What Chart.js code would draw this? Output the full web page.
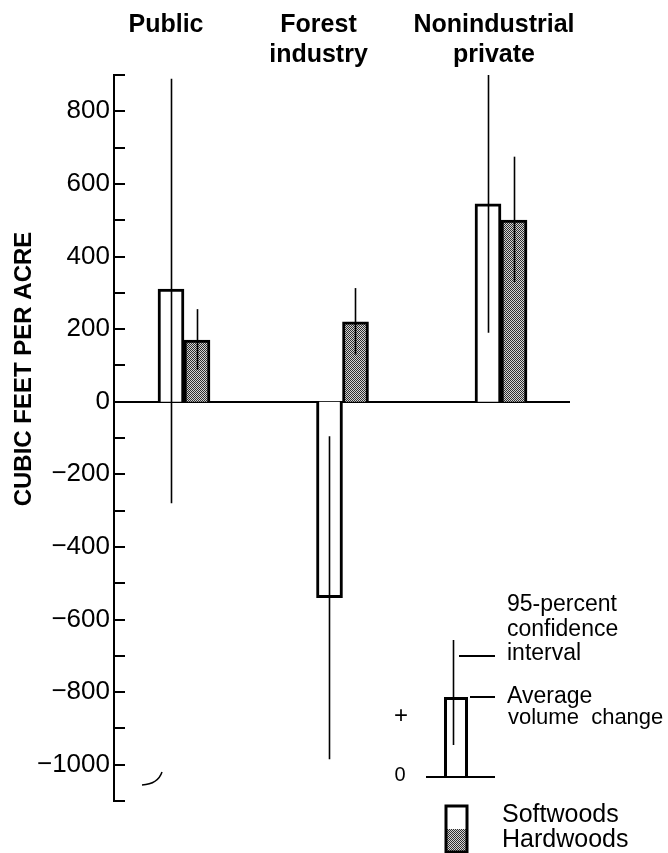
<!DOCTYPE html>
<html>
<head>
<meta charset="utf-8">
<script src="https://cdn.jsdelivr.net/npm/chart.js@4.4.0/dist/chart.umd.min.js"></script>
<style>
  html, body { margin: 0; padding: 0; background: #fff; }
  canvas { display: block; }
</style>
</head>
<body>
<canvas id="chart" width="668" height="853"></canvas>
<script>
// Average volume change per acre by ownership, with 95-percent confidence intervals
const categories = ['Public', 'Forest industry', 'Nonindustrial private'];
const categoryLines = [['Public'], ['Forest', 'industry'], ['Nonindustrial', 'private']];

const softwoods = [310, -540, 545];
const hardwoods = [170, 220, 500];

const softwoodLow = [-280, -985, 190];
const softwoodHigh = [890, -95, 900];
const hardwoodLow = [88, 130, 330];
const hardwoodHigh = [255, 313, 675];

const yTickLabels = [-1000, -800, -600, -400, -200, 0, 200, 400, 600, 800];

const FONT = "'Liberation Sans', Arial, Helvetica, sans-serif";

// Fine dotted fill used for the hardwood bars
function stipple() {
  const t = document.createElement('canvas');
  t.width = 4; t.height = 4;
  const g = t.getContext('2d');
  g.fillStyle = '#d4d4d4';
  g.fillRect(0, 0, 4, 4);
  g.fillStyle = '#2e2e2e';
  for (let yy = 0; yy < 4; yy++) {
    for (let xx = 0; xx < 4; xx++) {
      if ((xx + yy) % 2 === 0) g.fillRect(xx, yy, 1, 1);
    }
  }
  return g.createPattern(t, 'repeat');
}
const hatch = stipple();

const fmt = v => (v < 0 ? '\u2212' + Math.abs(v) : String(v));

const decor = {
  id: 'decor',
  beforeDatasetsDraw(chart) {
    const { ctx, chartArea: a, scales: { y } } = chart;
    ctx.save();
    ctx.strokeStyle = '#000';
    ctx.lineWidth = 2;
    // tick marks pointing into the plot
    for (let v = y.min; v <= y.max; v += 100) {
      const py = Math.round(y.getPixelForValue(v));
      ctx.beginPath();
      ctx.moveTo(a.left, py);
      ctx.lineTo(a.left + 11, py);
      ctx.stroke();
    }
    // zero line
    const y0 = Math.round(y.getPixelForValue(0));
    ctx.beginPath();
    ctx.moveTo(a.left, y0);
    ctx.lineTo(a.right, y0);
    ctx.stroke();
    ctx.restore();
  },
  afterDatasetsDraw(chart) {
    const { ctx, scales: { y } } = chart;
    const ranges = [[softwoodLow, softwoodHigh], [hardwoodLow, hardwoodHigh]];
    ctx.save();
    ctx.strokeStyle = '#000';
    ctx.lineWidth = 1.6;
    ranges.forEach(([lo, hi], d) => {
      chart.getDatasetMeta(d).data.forEach((bar, i) => {
        const px = Math.round(bar.x) + 0.5;
        ctx.beginPath();
        ctx.moveTo(px, y.getPixelForValue(hi[i]));
        ctx.lineTo(px, y.getPixelForValue(lo[i]));
        ctx.stroke();
      });
    });
    ctx.restore();
  },
  afterDraw(chart) {
    const { ctx, scales: { x } } = chart;
    ctx.save();
    ctx.fillStyle = '#000';
    ctx.strokeStyle = '#000';

    // ownership headings above each group
    const headShift = [-18, -24, -7];
    ctx.font = `bold 25px ${FONT}`;
    ctx.textAlign = 'center';
    ctx.textBaseline = 'alphabetic';
    categoryLines.forEach((lines, i) => {
      const cx = x.getPixelForValue(i) + headShift[i];
      lines.forEach((t, k) => ctx.fillText(t, cx, 32 + k * 30));
    });

    // vertical axis title
    ctx.save();
    ctx.translate(24, 369);
    ctx.rotate(-Math.PI / 2);
    ctx.font = `bold 24px ${FONT}`;
    ctx.textBaseline = 'middle';
    ctx.fillText('CUBIC FEET PER ACRE', 0, 0);
    ctx.restore();

    // key explaining bar and interval
    ctx.lineWidth = 2;
    ctx.beginPath(); ctx.moveTo(426, 777); ctx.lineTo(495, 777); ctx.stroke();
    ctx.lineWidth = 3;
    ctx.beginPath();
    ctx.moveTo(445.5, 777); ctx.lineTo(445.5, 698.5); ctx.lineTo(466.5, 698.5); ctx.lineTo(466.5, 777);
    ctx.stroke();
    ctx.lineWidth = 1.6;
    ctx.beginPath(); ctx.moveTo(453.5, 640); ctx.lineTo(453.5, 745); ctx.stroke();
    ctx.lineWidth = 2;
    ctx.beginPath(); ctx.moveTo(459, 656); ctx.lineTo(495, 656); ctx.stroke();
    ctx.beginPath(); ctx.moveTo(470, 697); ctx.lineTo(495, 697); ctx.stroke();

    ctx.textAlign = 'left';
    ctx.textBaseline = 'middle';
    ctx.font = `23px ${FONT}`;
    ctx.fillText('95-percent', 507, 605);
    ctx.fillText('confidence', 507, 630);
    ctx.fillText('interval', 507, 654);
    ctx.fillText('Average', 507, 697);
    ctx.font = `22px ${FONT}`;
    ctx.fillText('volume  change', 508, 718);
    ctx.textAlign = 'center';
    ctx.font = `24px ${FONT}`;
    ctx.fillText('+', 401, 716);
    ctx.font = `20px ${FONT}`;
    ctx.fillText('0', 400, 775);

    // series key
    ctx.fillStyle = '#fff';
    ctx.fillRect(446, 806, 21, 23);
    ctx.fillStyle = hatch;
    ctx.fillRect(446, 829, 21, 23);
    ctx.lineWidth = 3;
    ctx.strokeRect(446, 806, 21, 46);
    ctx.fillStyle = '#000';
    ctx.textAlign = 'left';
    ctx.font = `25px ${FONT}`;
    ctx.fillText('Softwoods', 502, 815);
    ctx.fillText('Hardwoods', 502, 840);

    // small stray stroke near the lower left
    ctx.lineWidth = 1.5;
    ctx.beginPath();
    ctx.moveTo(142, 785);
    ctx.quadraticCurveTo(158, 784, 162, 772);
    ctx.stroke();

    ctx.restore();
  }
};

new Chart(document.getElementById('chart'), {
  type: 'bar',
  data: {
    datasets: [
      {
        label: 'Softwoods',
        data: softwoods.map((v, i) => ({ x: i, y: v })),
        backgroundColor: '#fff',
        borderColor: '#000',
        borderWidth: 3,
        barThickness: 26
      },
      {
        label: 'Hardwoods',
        data: hardwoods.map((v, i) => ({ x: i, y: v })),
        backgroundColor: hatch,
        borderColor: '#000',
        borderWidth: 3,
        barThickness: 26
      }
    ]
  },
  options: {
    responsive: false,
    animation: false,
    devicePixelRatio: 1,
    layout: { padding: { left: 0, right: 98, top: 75, bottom: 52 } },
    plugins: { legend: { display: false }, tooltip: { enabled: false } },
    scales: {
      x: {
        type: 'linear',
        min: -0.4416,
        max: 2.4353,
        offset: false,
        display: false
      },
      y: {
        type: 'linear',
        min: -1100,
        max: 900,
        afterFit(scale) { scale.width = 114; },
        border: { display: true, color: '#000', width: 2 },
        grid: { display: false, drawTicks: false },
        ticks: {
          stepSize: 100,
          autoSkip: false,
          padding: 4,
          color: '#000',
          font: { family: FONT, size: 26 },
          callback: v => (yTickLabels.includes(v) ? fmt(v) : '')
        }
      }
    }
  },
  plugins: [decor]
});
</script>
</body>
</html>
